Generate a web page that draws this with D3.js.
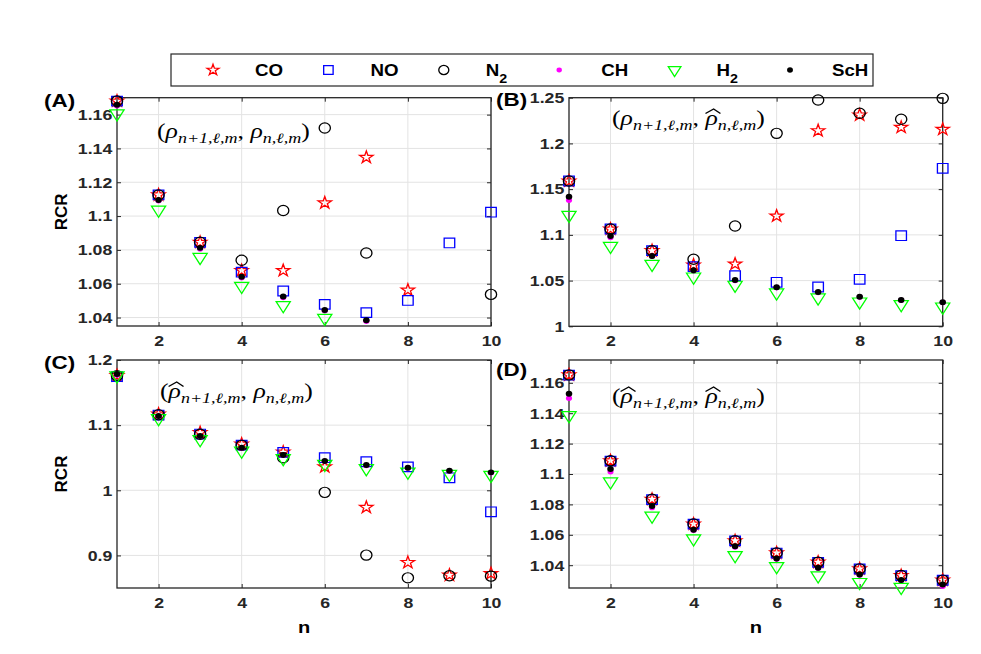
<!DOCTYPE html>
<html>
<head>
<meta charset="utf-8">
<script src="https://cdn.jsdelivr.net/npm/d3@7"></script>
<style>
  body { margin: 0; background: #fff; }
  text { font-family: "Liberation Sans", Arial, sans-serif; }
</style>
</head>
<body>
<svg id="fig" width="981" height="654"></svg>
<script>
// x values (principal quantum number n)
var nValues = [1, 2, 3, 4, 5, 6, 7, 8, 9, 10];
var speciesNames = ["CO", "NO", "N2", "CH", "H2", "ScH"];

// panel A: (rho_{n+1}, rho_n)
var aCO  = [1.168, 1.1125, 1.0845, 1.0678, 1.0678, 1.1078, 1.1347, 1.0562, null, null];
var aNO  = [1.168, 1.1125, 1.0845, 1.0668, 1.0557, 1.0478, 1.0429, 1.0501, 1.0841, 1.1023];
var aN2  = [1.168, 1.1125, 1.0845, 1.0739, 1.1033, 1.1521, 1.0782, null, null, 1.0537];
var aCH  = [1.1652, 1.109, 1.0805, 1.0635, 1.0518, 1.0440, 1.0378, null, null, null];
var aH2  = [1.1606, 1.1037, 1.0757, 1.0586, 1.0472, 1.0397, null, null, null, null];
var aScH = [1.1658, 1.1095, 1.0812, 1.0641, 1.0525, 1.0445, 1.0384, null, null, null];

// panel B: (rho_{n+1}, rho-hat_n)
var bCO  = [1.1589, 1.1064, 1.0827, 1.067, 1.0681, 1.1206, 1.2139, 1.2311, 1.2176, 1.2154];
var bNO  = [1.1589, 1.1064, 1.0827, 1.0652, 1.0553, 1.0481, 1.043, 1.0514, 1.0991, 1.1728];
var bN2  = [1.1589, 1.1064, 1.0827, 1.0733, 1.1097, 1.211, 1.2475, 1.233, 1.2264, 1.2493];
var bCH  = [1.1378, 1.097, 1.0765, 1.0605, 1.0502, 1.0423, 1.037, 1.032, 1.0285, 1.026];
var bH2  = [1.1217, 1.0878, 1.0681, 1.0542, 1.0452, 1.0368, 1.0313, 1.0269, 1.0241, 1.0214];
var bScH = [1.1417, 1.0988, 1.0769, 1.0612, 1.0506, 1.0426, 1.0375, 1.0324, 1.0288, 1.0263];

// panel C: (rho-hat_{n+1}, rho_n)
var cCO  = [1.176, 1.117, 1.0884, 1.071, 1.0587, 1.036, 0.9737, 0.8892, 0.8697, 0.8723];
var cNO  = [1.1744, 1.1155, 1.0863, 1.0694, 1.0582, 1.050, 1.0438, 1.036, 1.0192, 0.967];
var cN2  = [1.176, 1.116, 1.086, 1.069, 1.050, 0.9968, 0.9005, 0.8656, 0.8687, 0.8682];
var cCH  = [1.177, 1.1135, 1.083, 1.065, 1.0538, 1.0445, 1.038, 1.0342, 1.0295, 1.027];
var cH2  = [1.176, 1.1104, 1.0782, 1.0607, 1.049, 1.0402, 1.0336, 1.0284, 1.0249, 1.0233];
var cScH = [1.1785, 1.114, 1.0833, 1.0653, 1.0541, 1.0449, 1.0387, 1.0346, 1.03, 1.0275];

// panel D: (rho-hat_{n+1}, rho-hat_n)
var dCO  = [1.1652, 1.1087, 1.0834, 1.0671, 1.0561, 1.0481, 1.042, 1.0376, 1.0332, 1.0302];
var dNO  = [1.1650, 1.1085, 1.0832, 1.0670, 1.0560, 1.0480, 1.0419, 1.0375, 1.0331, 1.0301];
var dN2  = [1.1652, 1.1087, 1.0834, 1.0671, 1.0561, 1.0481, 1.042, 1.0376, 1.0332, 1.0302];
var dCH  = [1.1499, 1.1015, 1.0779, 1.063, 1.052, 1.044, 1.038, 1.0335, 1.0299, 1.0262];
var dH2  = [1.1386, 1.095, 1.0725, 1.0575, 1.0465, 1.0393, 1.0332, 1.0288, 1.0256, null];
var dScH = [1.1528, 1.1033, 1.079, 1.0633, 1.0524, 1.0444, 1.0383, 1.0339, 1.0302, 1.0273];

// tick values
var xTicks = [2, 4, 6, 8, 10];
var ticksA = [1.04, 1.06, 1.08, 1.1, 1.12, 1.14, 1.16];
var ticksB = [1, 1.05, 1.1, 1.15, 1.2, 1.25];
var ticksC = [0.9, 1, 1.1, 1.2];
var ticksD = [1.04, 1.06, 1.08, 1.1, 1.12, 1.14, 1.16];

var svg = d3.select("#fig");
var axisColor = "#262626";
var stretch = 1.18;   // the figure is a bit wider than tall

// marker style for every species
var markerStyle = {
  CO:  { sym: d3.symbolStar, size: 46, stroke: "#ff0000", fill: "none" },
  NO:  { sym: d3.symbolSquare, size: 92, stroke: "#0000ff", fill: "none" },
  N2:  { sym: d3.symbolCircle, size: 82, stroke: "#000000", fill: "none" },
  CH:  { sym: d3.symbolCircle, size: 24, stroke: "none", fill: "#ff00ff" },
  H2:  { sym: d3.symbolTriangle, size: 72, stroke: "#00ff00", fill: "none", flip: true },
  ScH: { sym: d3.symbolCircle, size: 28, stroke: "none", fill: "#000000" }
};

function drawMarker(g, name, cx, cy, k) {
  var st = markerStyle[name];
  k = k || 1;
  g.append("path")
    .attr("d", d3.symbol().type(st.sym).size(st.size * k)())
    .attr("transform", "translate(" + cx + "," + cy + ") scale(1.1,1)" + (st.flip ? " rotate(180)" : ""))
    .attr("fill", st.fill)
    .attr("stroke", st.stroke)
    .attr("stroke-width", 1.2);
}

// tick label: drop trailing zeros like matlab does
function fmt(d) { return String(+d.toFixed(4)); }

// the formula in each panel, hats says which rho gets a hat
function addNote(g, x0, y0, hats, width) {
  var ng = g.append("g");
  var t = ng.append("text")
    .attr("x", x0).attr("y", y0)
    .style("font-family", '"Liberation Serif", "DejaVu Serif", serif')
    .attr("fill", "#000");
  var rhos = [];
  t.append("tspan").text("(").style("font-size", "20px");
  rhos.push(t.append("tspan").text("\u03C1").style("font-style", "italic").style("font-size", "20px"));
  t.append("tspan").attr("dy", 5).text("n+1,\u2113,m").style("font-style", "italic").style("font-size", "14px");
  t.append("tspan").attr("dy", -5).text(", ").style("font-size", "20px");
  rhos.push(t.append("tspan").text("\u03C1").style("font-style", "italic").style("font-size", "20px"));
  t.append("tspan").attr("dy", 5).text("n,\u2113,m").style("font-style", "italic").style("font-size", "14px");
  t.append("tspan").attr("dy", -5).text(")").style("font-size", "20px");

  // wide hat drawn over the rho
  rhos.forEach(function(r, i) {
    if (!hats[i]) return;
    var bb = r.node().getBBox();
    var x1 = bb.x + 1, x2 = bb.x + bb.width + 2;
    ng.append("path")
      .attr("d", "M" + x1 + "," + (y0 - 11.5) + " L" + ((x1 + x2) / 2 + 0.5) + "," + (y0 - 16) + " L" + x2 + "," + (y0 - 11.5))
      .attr("fill", "none").attr("stroke", "#000").attr("stroke-width", 1);
  });

  var w = t.node().getBBox().width;
  ng.attr("transform", "translate(" + x0 + ",0) scale(" + (width / w) + ",1) translate(" + (-x0) + ",0)");
}

function drawPanel(p) {
  var x = d3.scaleLinear().domain([1, 10]).range([p.left, p.right]);
  var y = d3.scaleLinear().domain(p.yDomain).range([p.bottom, p.top]);
  var g = svg.append("g");

  // grid
  g.selectAll(".gx").data(xTicks).enter().append("line")
    .attr("x1", d => x(d)).attr("x2", d => x(d))
    .attr("y1", p.top).attr("y2", p.bottom)
    .attr("stroke", "#e3e3e3").attr("stroke-width", 1);
  g.selectAll(".gy").data(p.yTicks).enter().append("line")
    .attr("x1", p.left).attr("x2", p.right)
    .attr("y1", d => y(d)).attr("y2", d => y(d))
    .attr("stroke", "#e3e3e3").attr("stroke-width", 1);

  // axes, ticks point inward
  var bottom = g.append("g").attr("transform", "translate(0," + p.bottom + ")")
    .call(d3.axisBottom(x).tickValues(xTicks).tickSizeInner(-4).tickSizeOuter(0).tickPadding(9).tickFormat(fmt));
  var left = g.append("g").attr("transform", "translate(" + p.left + ",0)")
    .call(d3.axisLeft(y).tickValues(p.yTicks).tickSizeInner(-4).tickSizeOuter(0).tickPadding(4).tickFormat(fmt));
  var top = g.append("g").attr("transform", "translate(0," + p.top + ")")
    .call(d3.axisTop(x).tickValues(xTicks).tickSizeInner(-4).tickSizeOuter(0).tickFormat(""));
  var right = g.append("g").attr("transform", "translate(" + p.right + ",0)")
    .call(d3.axisRight(y).tickValues(p.yTicks).tickSizeInner(-4).tickSizeOuter(0).tickFormat(""));

  [bottom, left, top, right].forEach(function(a) {
    a.select(".domain").remove();
    a.selectAll("line").attr("stroke", axisColor);
    a.selectAll("text")
      .attr("fill", axisColor)
      .style("font-size", "15px")
      .style("font-weight", "bold")
      .style("font-family", '"Liberation Sans", Arial, sans-serif')
      .attr("transform", "scale(" + stretch + ",1)");
  });

  // box
  g.append("rect")
    .attr("x", p.left).attr("y", p.top)
    .attr("width", p.right - p.left).attr("height", p.bottom - p.top)
    .attr("fill", "none").attr("stroke", axisColor).attr("stroke-width", 1.3);

  addNote(g, p.noteX, p.noteY, p.hats, 153);

  // markers
  p.series.forEach(function(vals, i) {
    var name = speciesNames[i];
    vals.forEach(function(v, j) {
      if (v === null || v < p.yDomain[0] || v > p.yDomain[1]) return;
      drawMarker(g, name, x(nValues[j]), y(v));
    });
  });

  // panel letter
  g.append("text")
    .attr("transform", "translate(" + p.labelX + "," + p.labelY + ") scale(" + stretch + ",1)")
    .style("font-size", "19px").style("font-weight", "bold")
    .attr("fill", "#000")
    .text("(" + p.id + ")");

  if (p.yLabel) {
    g.append("text")
      .attr("transform", "translate(" + (p.left - 50) + "," + ((p.top + p.bottom) / 2) + ") rotate(-90)")
      .attr("text-anchor", "middle")
      .style("font-size", "17px").style("font-weight", "bold")
      .attr("fill", "#000")
      .text("RCR");
  }
  if (p.xLabel) {
    g.append("text")
      .attr("transform", "translate(" + ((p.left + p.right) / 2) + "," + (p.bottom + 45) + ") scale(" + stretch + ",1)")
      .attr("text-anchor", "middle")
      .style("font-size", "17px").style("font-weight", "bold")
      .attr("fill", "#000")
      .text("n");
  }
}

var panels = [
  { id: "A", left: 117, right: 491, top: 97.7, bottom: 326, yDomain: [1.035, 1.17], yTicks: ticksA,
    series: [aCO, aNO, aN2, aCH, aH2, aScH], hats: [false, false], noteX: 157, noteY: 138,
    labelX: 44, labelY: 107, yLabel: true, xLabel: false },
  { id: "B", left: 569, right: 942.7, top: 97.7, bottom: 326.3, yDomain: [1, 1.25], yTicks: ticksB,
    series: [bCO, bNO, bN2, bCH, bH2, bScH], hats: [false, true], noteX: 612, noteY: 125,
    labelX: 496, labelY: 106, yLabel: false, xLabel: false },
  { id: "C", left: 117, right: 491, top: 360, bottom: 588, yDomain: [0.85, 1.2], yTicks: ticksC,
    series: [cCO, cNO, cN2, cCH, cH2, cScH], hats: [true, false], noteX: 160, noteY: 398,
    labelX: 44, labelY: 369, yLabel: true, xLabel: true },
  { id: "D", left: 569, right: 942.7, top: 360, bottom: 588, yDomain: [1.025, 1.175], yTicks: ticksD,
    series: [dCO, dNO, dN2, dCH, dH2, dScH], hats: [true, true], noteX: 612, noteY: 403,
    labelX: 496, labelY: 376, yLabel: false, xLabel: true }
];

panels.forEach(drawPanel);

// legend
var legend = svg.append("g");
legend.append("rect")
  .attr("x", 171).attr("y", 54).attr("width", 702).attr("height", 32)
  .attr("fill", "#fff").attr("stroke", axisColor).attr("stroke-width", 1.2);

var legendX = d3.scaleLinear().domain([0, 5]).range([213, 790]);
var legendLabels = [["CO"], ["NO"], ["N", "2"], ["CH"], ["H", "2"], ["ScH"]];
speciesNames.forEach(function(name, i) {
  drawMarker(legend, name, legendX(i), 70, 0.8);
  var t = legend.append("text")
    .attr("transform", "translate(" + (legendX(i) + 42) + ",76) scale(1.1,1)")
    .style("font-size", "17px").style("font-weight", "bold")
    .attr("fill", "#000");
  t.append("tspan").text(legendLabels[i][0]);
  if (legendLabels[i][1]) {
    t.append("tspan").attr("dy", 7).style("font-size", "13px").text(legendLabels[i][1]);
  }
});
</script>
</body>
</html>
